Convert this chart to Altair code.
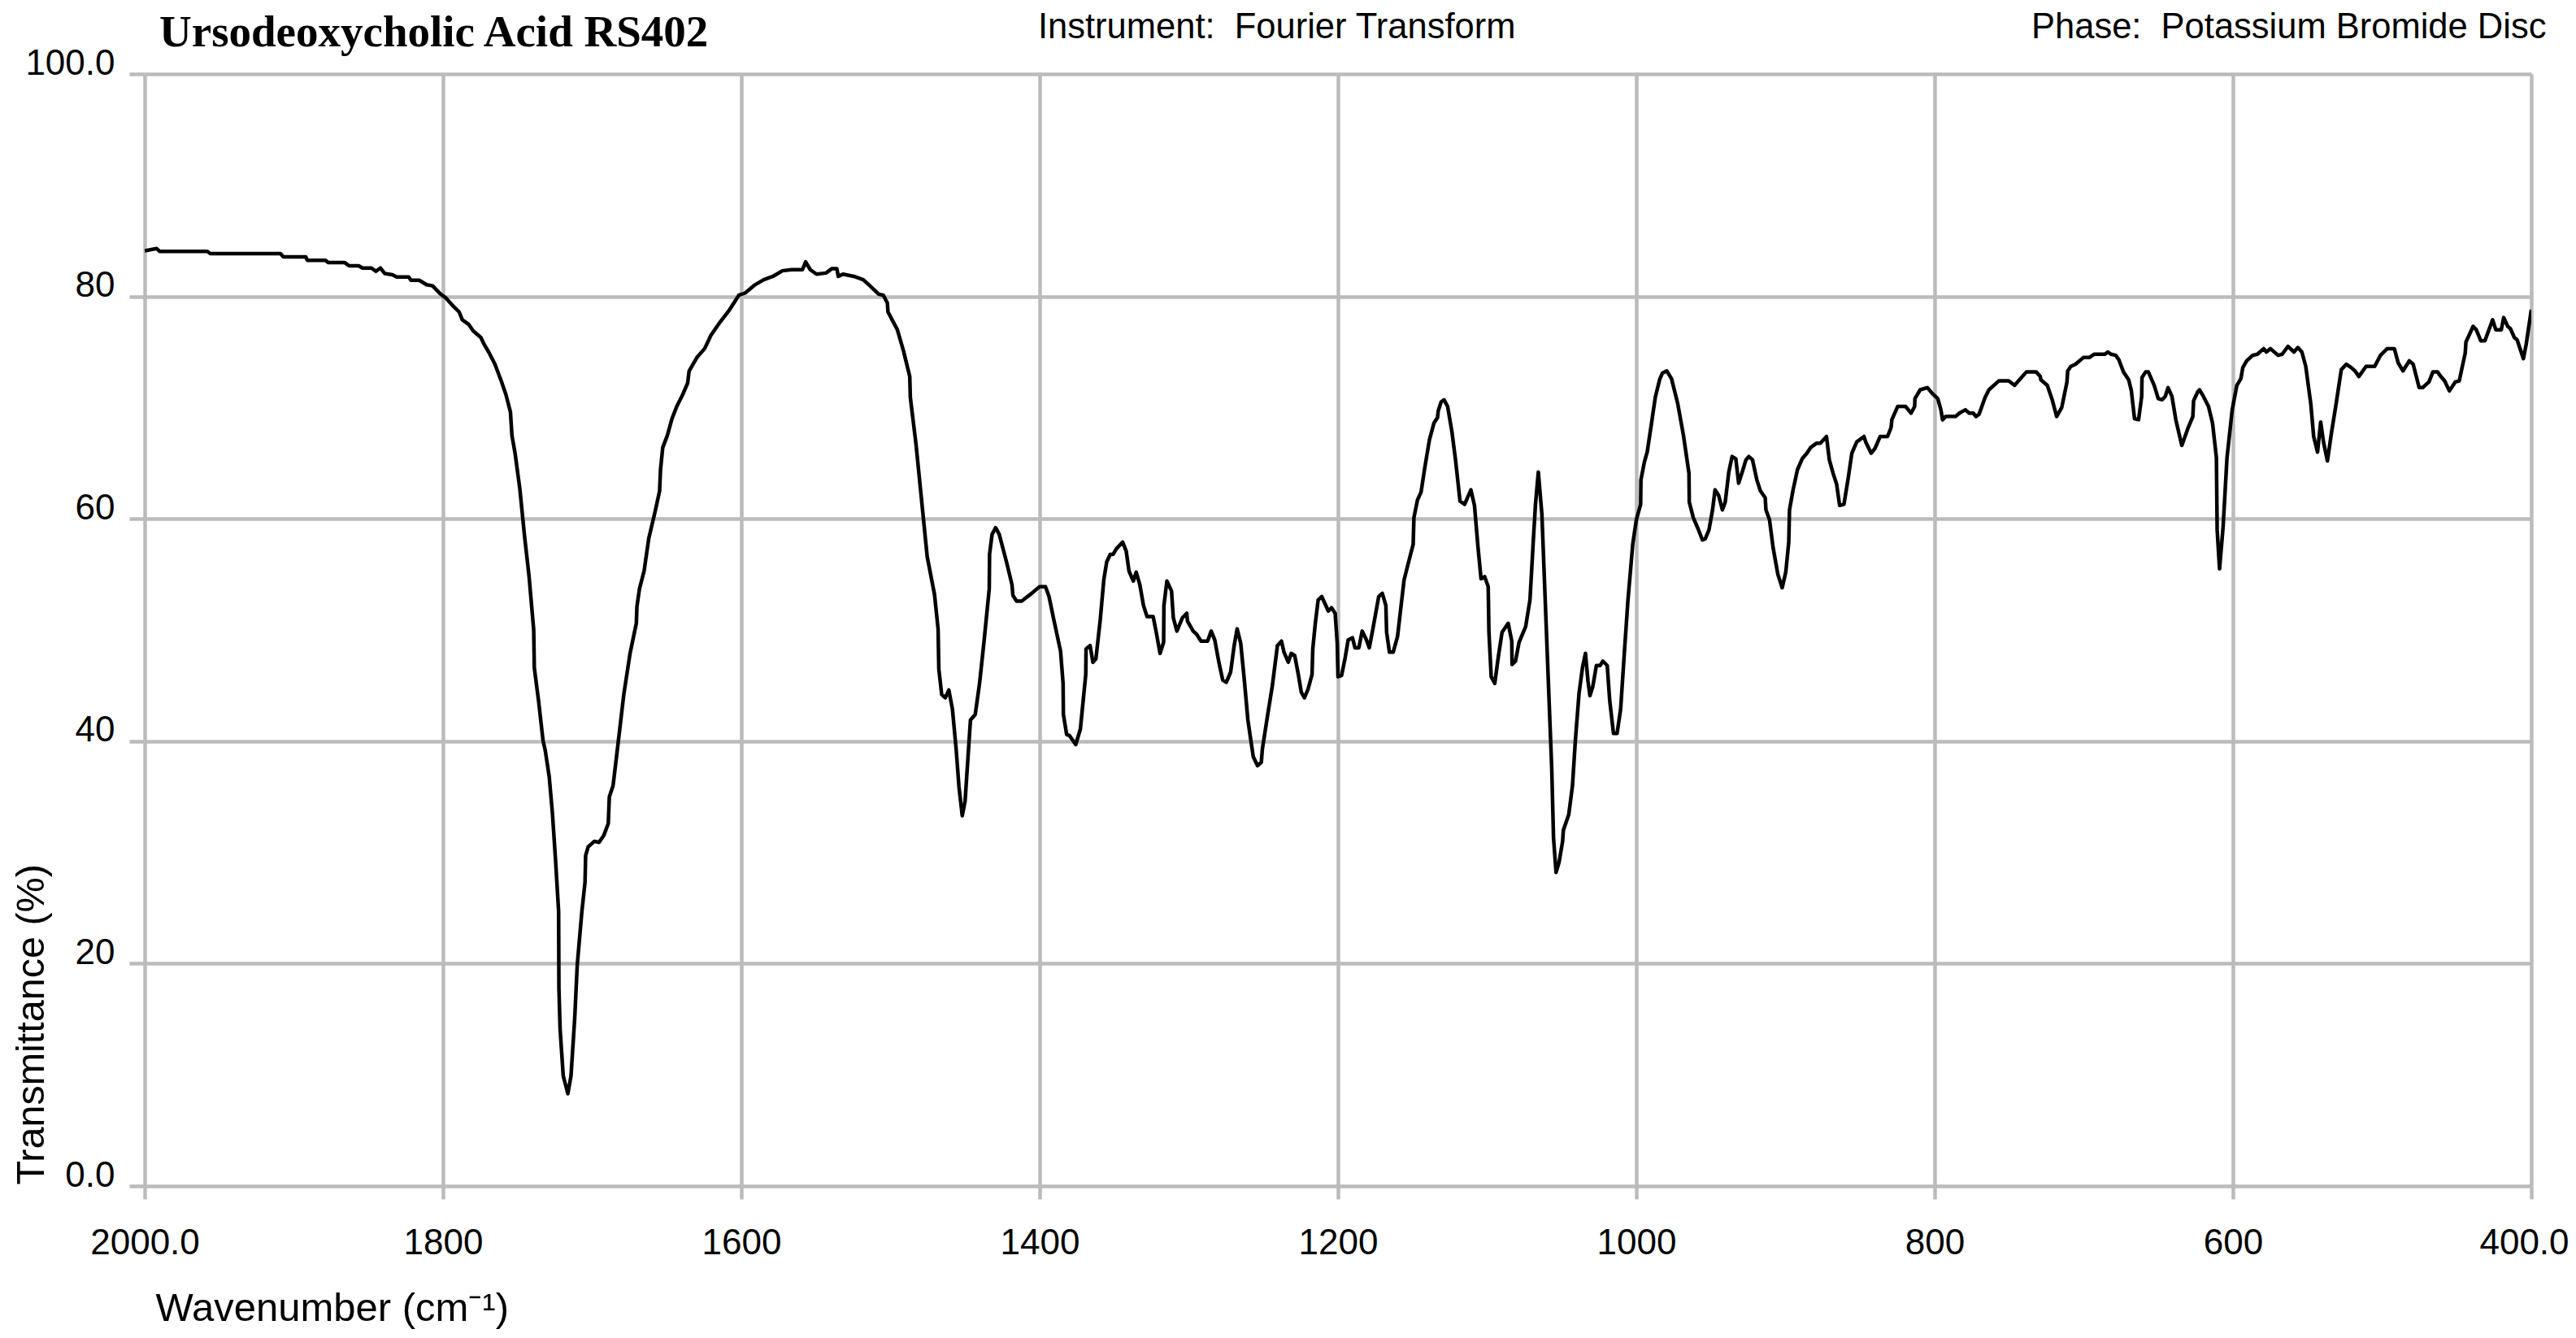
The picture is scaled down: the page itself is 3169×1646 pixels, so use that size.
import altair as alt
import pandas as pd

# Wavenumber (cm-1) and transmittance (%)
wavenumber = [
    2000, 1992, 1990, 1958, 1956, 1909, 1907, 1892, 1891, 1879, 1877, 1866, 1863, 1856.5, 1854,
    1848, 1845, 1842, 1839, 1834, 1831, 1823, 1821.5, 1816, 1811, 1807, 1802, 1798, 1793,
    1789.2, 1787.1, 1782.9, 1779.8, 1774.6, 1772.5, 1769.4, 1765.2, 1761.0, 1757.9, 1754.8,
    1753.8, 1751.7, 1748.5, 1745.4, 1742.3, 1739.2, 1738.8, 1736.0, 1732.9, 1731.5, 1728.8,
    1726.7, 1724.6, 1722.5, 1722.3, 1721.5, 1719.4, 1716.3, 1714.2, 1711.7, 1710.0, 1706.9,
    1704.8, 1704.4, 1702.7, 1698.5, 1695.4, 1692.3, 1689.2, 1688.5, 1686.0, 1682.9, 1678.8,
    1674.6, 1670.4, 1670.0, 1668.3, 1665.2, 1662.1, 1657.9, 1654.8, 1654.2, 1652.7, 1649.6,
    1646.5, 1643.3, 1639.2, 1636.0, 1635.0, 1629.8, 1624.6, 1620.4, 1614.2, 1607.9, 1601.7,
    1597.5, 1591.3, 1585.0, 1578.8, 1572.5, 1566.3, 1559.0, 1556.9, 1553.8, 1549.6, 1543.3,
    1539.2, 1536.0, 1535.0, 1531.9, 1524.6, 1518.3, 1514.2, 1507.9, 1504.8, 1502.1, 1501.7,
    1495.4, 1491.3, 1487.1, 1486.7, 1482.9,
    1475.4, 1470.5, 1468.1, 1467.6, 1465.7, 1463.3, 1460.9, 1458.5, 1456.0, 1454.1, 1451.9,
    1450.0, 1446.4, 1443.2, 1440.3, 1437.2, 1433.8, 1433.6, 1431.9, 1429.5, 1427.1, 1422.2,
    1418.6, 1417.9, 1415.5, 1412.1, 1405.3, 1400.0, 1396.1, 1393.7, 1390.8, 1386.0, 1384.3,
    1384.1, 1381.9, 1380.0, 1375.8, 1372.7, 1369.1, 1368.9, 1366.2, 1364.3, 1362.3, 1359.4,
    1357.0, 1355.1, 1352.7, 1350.7, 1348.6, 1344.4, 1342.0, 1340.1, 1337.2, 1335.3, 1332.9,
    1330.4, 1328.0, 1323.9, 1322.0, 1319.3, 1316.9, 1316.7, 1314.7, 1311.6, 1310.4, 1308.0,
    1304.3, 1301.4, 1300.9, 1297.1, 1294.7, 1291.8, 1287.4, 1285.0, 1282.6, 1279.7, 1277.3,
    1274.9, 1272.0, 1269.6, 1267.6, 1265.2, 1262.8, 1260.4, 1256.8, 1253.9, 1251.4, 1250.7,
    1247.1, 1244.0, 1240.6, 1237.9, 1236.2, 1233.3, 1231.4, 1229.0, 1226.6, 1224.6, 1222.5,
    1220.0, 1217.4, 1216.9, 1215.2, 1213.3, 1210.9, 1208.5, 1206.5, 1204.3, 1201.9, 1200.5,
    1200.0, 1197.6, 1195.2, 1193.2, 1190.3, 1188.6, 1186.0, 1183.8, 1181.2, 1179.0,
    1176.6, 1172.7, 1170.3, 1167.9, 1167.4, 1165.5, 1163.0, 1160.1, 1155.7, 1152.3, 1149.6,
    1149.1, 1146.7, 1144.3, 1141.8, 1138.7, 1135.7, 1133.3, 1132.8, 1130.9, 1128.9, 1126.5,
    1123.6, 1121.2, 1118.2, 1115.1, 1110.9, 1108.5, 1106.1, 1104.1, 1101.7, 1099.3, 1098.8,
    1097.3, 1094.9, 1092.5, 1090.0, 1085.9, 1083.5, 1083.3, 1081.0, 1078.6, 1074.2, 1071.3,
    1068.9, 1067.6, 1065.7, 1063.3, 1061.6, 1059.1, 1056.7, 1055.5, 1053.8, 1051.8, 1049.4,
    1048.9, 1045.3, 1042.8, 1040.9, 1038.4, 1036.0, 1034.1, 1032.4, 1031.1, 1029.2, 1026.8,
    1024.3, 1022.4, 1019.5, 1017.8, 1015.3, 1012.9, 1010.5, 1008.0, 1005.6, 1002.4, 1000.0,
    997.1, 996.9, 994.6, 992.7, 989.8, 987.3, 984.4, 982.5, 979.6, 976.4, 972.3, 968.4,
    964.7, 964.5, 961.8, 958.6, 955.7, 953.8, 951.3, 948.9, 947.2, 944.8, 942.3, 940.4,
    938.0, 935.8, 933.3, 931.4, 929.0, 926.5, 924.6, 922.1, 919.2, 916.8, 913.6, 913.1,
    910.7, 908.3, 905.1, 902.2, 899.8, 897.8, 897.3, 894.9, 892.0, 888.8, 885.6, 883.2,
    879.1, 876.6, 872.5, 870.6, 868.1, 865.7, 863.7, 860.8, 857.9, 855.5, 852.3, 847.4,
    846.2, 842.6, 840.1, 836.5, 831.6, 829.2, 828.7, 824.8, 819.5, 815.8, 813.4, 813.2,
    809.7, 804.9,
    801.8, 797.9, 795.8, 794.7, 792.6, 786.0, 783.4, 779.4, 776.8, 774.1, 772.3, 770.2,
    766.2, 763.6, 757.0, 750.4, 746.4, 743.8, 738.5, 731.9, 729.2, 728.8, 724.5, 721.4,
    718.2, 714.8, 711.3, 710.8, 708.7, 705.5, 700.3, 696.3, 692.9, 685.8, 683.9, 681.8,
    678.6, 676.5, 673.4, 669.9, 668.1, 666.0, 663.3, 661.2, 661.0, 658.6, 656.7, 652.8,
    650.1, 647.5, 645.4, 643.5, 640.9, 638.3, 634.3, 630.3, 626.9, 626.4, 623.7, 622.4,
    619.8, 616.4, 613.7, 611.1, 610.6, 609.0, 606.6, 604.0, 600.5, 597.4, 594.7, 593.4,
    590.8, 586.8, 583.6, 579.4, 577.6, 574.9, 569.7, 567.0, 563.1, 559.1, 556.5, 553.8,
    551.2, 547.8, 545.9, 543.3, 541.2, 539.3, 536.7, 534.0, 530.9, 527.4, 524.0, 520.8,
    518.2, 515.6, 510.8, 505.0, 501.1, 496.6, 491.8, 489.2, 486.0, 481.8, 479.2, 475.2,
    472.8, 468.6, 466.0, 462.8, 460.7, 458.1, 454.9, 451.0, 448.3, 444.3, 443.8, 439.0,
    436.9, 433.8, 431.1, 425.9, 423.8, 420.1, 418.5, 415.8, 414.0, 411.4, 409.5, 405.3,
    403.4, 400.0,
]

transmittance = [
    84.1, 84.3, 84.05, 84.05, 83.85, 83.85, 83.55, 83.55, 83.25, 83.25, 83.05, 83.05, 82.75, 82.75, 82.55,
    82.55, 82.25, 82.55, 82.05, 81.95, 81.75, 81.75, 81.45, 81.45, 81.05, 80.95, 80.25, 79.85, 79.1,
    78.6, 77.9, 77.5, 76.9, 76.3, 75.7, 75.0, 73.9, 72.4, 71.2, 69.6,
    67.5, 65.9, 62.7, 58.5, 54.8, 50.0, 46.6, 43.7, 40.0, 39.2, 36.8,
    33.6, 29.4, 24.7, 17.8, 14.1, 9.9, 8.3, 9.9, 15.1, 19.9, 24.7,
    27.3, 29.7, 30.5, 31.0, 30.9, 31.5, 32.6, 35.0, 36.0, 39.5, 44.2,
    47.9, 50.6, 52.1, 53.7, 55.3, 58.2, 60.6, 62.5, 64.4, 66.4, 67.5,
    69.0, 70.1, 71.2, 72.2, 73.3, 74.5, 75.3, 76.5, 77.7, 78.8, 80.1,
    80.3, 81.0, 81.5, 81.8, 82.3, 82.4, 82.4, 83.1, 82.4, 82.0, 82.1,
    82.5, 82.5, 81.8, 82.0, 81.8, 81.5, 81.0, 80.2, 80.1, 79.4, 78.6,
    77.0, 75.1, 72.8, 70.9, 66.7,
    56.6, 53.2, 50.1, 46.5, 44.2, 43.9, 44.6, 42.9, 39.3, 35.9, 33.3,
    34.6, 41.9, 42.4, 45.2, 49.1, 53.7, 56.8, 58.6, 59.2, 58.6, 56.1,
    54.1, 53.1, 52.6, 52.6, 53.3, 53.9, 53.9, 53.0, 51.1, 48.1, 45.2,
    42.4, 40.6, 40.5, 39.7, 41.1, 46.0, 48.3, 48.6, 47.1, 47.4, 50.9,
    54.5, 56.1, 56.8, 56.8, 57.3, 57.9, 57.1, 55.3, 54.4, 55.2, 54.1,
    52.2, 51.2, 51.2, 49.9, 47.9, 48.9, 52.2, 54.4, 53.5, 51.1, 49.9,
    51.1, 51.5, 50.8, 49.9, 49.6, 49.0, 49.0, 49.9, 49.1, 47.0, 45.5,
    45.3, 46.2, 48.6, 50.1, 48.8, 45.5, 41.9, 38.6, 37.8, 38.1, 39.3,
    42.4, 45.0, 48.6, 49.0, 48.0, 47.1, 47.9, 47.7, 46.0, 44.4, 43.9,
    44.7, 46.0, 48.3, 50.6, 52.7, 53.0, 52.3, 51.7, 52.0, 51.5, 48.8,
    45.8, 45.9, 47.5, 49.1, 49.3, 48.4, 48.4, 49.9, 49.2, 48.4,
    50.1, 53.0, 53.3, 52.2, 49.8, 48.0, 48.0, 49.4, 54.5, 56.3, 57.7,
    60.1, 61.7, 62.4, 64.6, 67.1, 68.6, 69.1, 69.7, 70.5, 70.7, 70.1,
    67.8, 65.3, 61.6, 61.3, 62.6, 61.2, 57.4, 54.6, 54.8, 53.9, 49.8,
    45.8, 45.2, 47.6, 49.8, 50.6, 49.0, 46.9, 47.2, 48.9, 50.3, 52.7,
    58.4, 61.3, 64.2, 60.4, 54.5, 45.8, 37.5, 31.3, 28.2, 29.1, 31.0,
    32.0, 33.4, 36.0, 40.0, 44.3, 46.7, 47.9, 45.4, 44.1, 44.9, 46.8,
    46.8, 47.2, 46.8, 43.6, 40.7, 40.7, 42.9, 48.0, 52.7, 57.7, 59.9,
    61.3, 63.5, 65.1, 66.0, 68.6, 70.9, 72.5, 73.1, 73.3, 72.6, 70.4, 67.5,
    64.1, 61.5, 60.1, 59.1, 58.1, 58.2, 59.0, 60.8, 62.6, 62.1, 60.8, 61.5,
    64.2, 65.6, 65.4, 63.2, 64.2, 65.3, 65.6, 65.3, 63.5, 62.5, 61.9, 60.8,
    59.9, 57.4, 55.0, 53.8, 55.2, 57.9, 60.8, 62.6, 64.4, 65.4, 65.9, 66.4,
    66.8, 66.8, 67.4, 65.3, 64.1, 63.1, 61.2, 61.3, 63.7, 65.9, 66.9, 67.4,
    66.9, 65.9, 66.3, 67.4, 67.4, 68.2, 68.9, 70.1, 70.1, 69.5, 70.1, 70.8,
    71.6, 71.8,
    71.3, 70.8, 69.8, 68.9, 69.2, 69.2, 69.5, 69.8, 69.5, 69.5, 69.2, 69.4,
    70.9, 71.6, 72.4, 72.4, 72.0, 72.4, 73.2, 73.2, 72.8, 72.5, 72.0, 70.8,
    69.2, 70.0, 72.3, 73.3, 73.7, 73.9, 74.5, 74.5, 74.8, 74.8, 75.0, 74.8,
    74.7, 74.3, 73.2, 72.5, 71.5, 69.0, 68.9, 71.0, 72.7, 73.2, 73.2, 72.0,
    70.8, 70.7, 71.0, 71.8, 71.0, 68.9, 66.6, 68.1, 69.2, 70.6, 71.4, 71.6,
    71.0, 70.1, 68.6, 65.5, 59.0, 55.5, 59.3, 65.5, 69.8, 72.0, 72.6, 73.6,
    74.2, 74.7, 74.8, 75.3, 75.0, 75.3, 74.7, 74.8, 75.5, 75.0, 75.4, 75.0,
    73.7, 70.3, 67.4, 66.0, 68.7, 66.9, 65.2, 67.7, 70.3, 73.4, 73.9, 73.6,
    73.3, 72.8, 73.7, 73.7, 74.7, 75.3, 75.3, 74.0, 73.3, 74.2, 73.9, 71.8,
    71.8, 72.3, 73.2, 73.2, 72.8, 72.4, 71.5, 72.3, 72.4, 74.9, 75.9, 77.3,
    77.0, 76.0, 76.0, 77.9, 77.0, 77.0, 78.1, 77.3, 77.1, 76.3, 76.1, 74.4,
    75.7, 78.8,
]

x_ticks = [2000, 1800, 1600, 1400, 1200, 1000, 800, 600, 400]
y_ticks = [0, 20, 40, 60, 80, 100]

title_text = "Ursodeoxycholic Acid RS402"
instrument_text = "Instrument:\u00a0 Fourier Transform"
phase_text = "Phase:\u00a0 Potassium Bromide Disc"

df = pd.DataFrame({"wn": wavenumber, "T": transmittance})

GRID = "#bbbbbb"
SANS = "Liberation Sans, Arial, Helvetica"

line = alt.Chart(df).mark_line(
    color="black", strokeWidth=4.5, strokeJoin="round", clip=True
).encode(
    x=alt.X(
        "wn:Q",
        scale=alt.Scale(domain=[400, 2000], reverse=True, nice=False, zero=False),
        axis=alt.Axis(
            values=x_ticks,
            labelExpr="(datum.value == 2000 || datum.value == 400) ? format(datum.value, '.1f') : format(datum.value, 'd')",
            labelOffset={"condition": {"test": "datum.value == 400", "value": -9}, "value": 0},
            title="Wavenumber (cm\u207b\u00b9)",
            titleX=13, titleY=165, titleAlign="left", titleBaseline="alphabetic",
            titleFont=SANS, titleFontSize=49, titleFontWeight="normal", titleColor="black",
            labelFont=SANS, labelFontSize=44, labelColor="black",
            labelFlush=False, labelOverlap=False, labelBound=False,
            labelPadding=32, tickSize=16, tickColor=GRID, tickWidth=4.5,
            grid=True, gridColor=GRID, gridWidth=4.5, gridOpacity=1,
            domain=False,
        ),
    ),
    y=alt.Y(
        "T:Q",
        scale=alt.Scale(domain=[0, 100], nice=False, zero=True),
        axis=alt.Axis(
            values=y_ticks,
            labelExpr="(datum.value == 0 || datum.value == 100) ? format(datum.value, '.1f') : format(datum.value, 'd')",
            title="Transmittance (%)",
            titleX=-125, titleY=1366, titleAngle=270, titleAlign="left", titleBaseline="alphabetic",
            titleFont=SANS, titleFontSize=48.5, titleFontWeight="normal", titleColor="black",
            labelFont=SANS, labelFontSize=44, labelColor="black", labelBaseline="alphabetic",
            labelAlign="right",
            labelFlush=False, labelOverlap=False, labelBound=False,
            labelPadding=18, tickSize=19, tickColor=GRID, tickWidth=4.5,
            grid=True, gridColor=GRID, gridWidth=4.5, gridOpacity=1,
            domain=False,
        ),
    ),
)

one = pd.DataFrame({"k": [0]})

title_mark = alt.Chart(one).mark_text(
    text=title_text, font="Liberation Serif, Times New Roman, serif", fontSize=55, fontWeight="bold",
    align="left", baseline="alphabetic", color="black",
).encode(x=alt.value(18), y=alt.value(-34))

instrument_mark = alt.Chart(one).mark_text(
    text=instrument_text, font=SANS, fontSize=43.5,
    align="left", baseline="alphabetic", color="black",
).encode(x=alt.value(1099), y=alt.value(-44))

phase_mark = alt.Chart(one).mark_text(
    text=phase_text, font=SANS, fontSize=43.5,
    align="left", baseline="alphabetic", color="black",
).encode(x=alt.value(2321), y=alt.value(-44))

chart = alt.layer(line, title_mark, instrument_mark, phase_mark).properties(
    width=2936,
    height=1368,
    autosize=alt.AutoSizeParams(type="none"),
    padding={"left": 170, "top": 83, "right": 47, "bottom": 179},
    background="white",
).configure_view(stroke=None)

chart.save("out.html", embed_options={"renderer": "svg", "actions": False})
